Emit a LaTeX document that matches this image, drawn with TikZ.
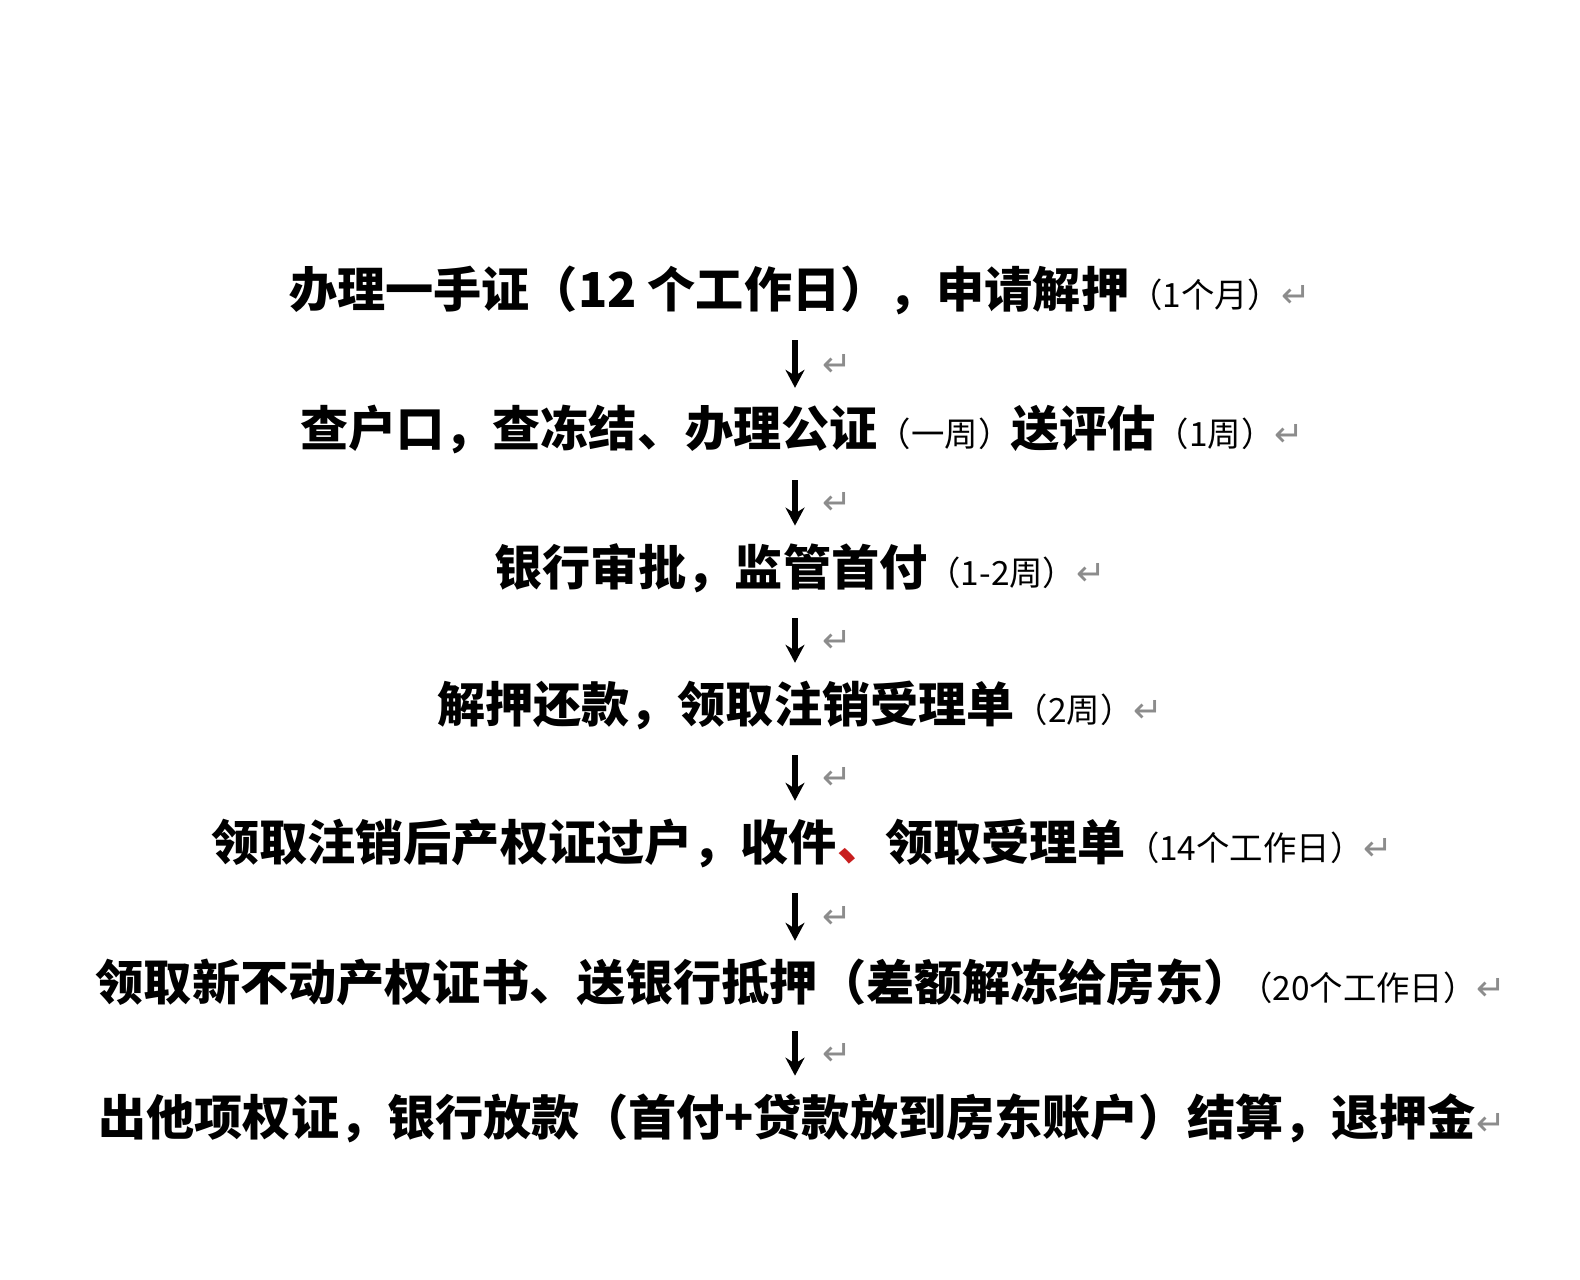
\documentclass[tikz,border=0pt]{standalone}
\usepackage{fontspec}
\usetikzlibrary{arrows.meta}
\newfontfamily\hei{Noto Sans CJK SC}
\newfontfamily\symfont{DejaVu Sans}
\definecolor{retgray}{RGB}{140,140,140}
\definecolor{markred}{RGB}{200,30,30}
\newcommand\dur[1]{{\hei\mdseries\fontsize{9.5}{10}\selectfont #1}}
\newcommand\retmark{{\symfont\mdseries\color{retgray}\fontsize{10}{11}\selectfont ↵}}
\tikzset{
  stepline/.style={inner sep=0pt, font=\hei\bfseries\fontsize{13.7}{15}\selectfont},
  flow/.style={-{Stealth[length=1.8mm,width=1.9mm]}, line width=1.7pt, shorten <=2.5mm, shorten >=1.7mm},
  ret/.style={right=2.4mm, yshift=-0.5mm, inner sep=0pt}
}
\begin{document}
\begin{tikzpicture}
    \useasboundingbox (0,0) rectangle (15.8,12.8);
    \coordinate (ax) at (7.95,0);
    \node[stepline] (s1) at (8.0,9.9) {办理一手证（12 个工作日），申请解押\dur{（1个月）}\retmark};
    \node[stepline] (s2) at (8.02,8.5) {查户口，查冻结、办理公证\dur{（一周）}送评估\dur{（1周）}\retmark};
    \node[stepline] (s3) at (8.0,7.12) {银行审批，监管首付\dur{（1-2周）}\retmark};
    \node[stepline] (s4) at (8.0,5.75) {解押还款，领取注销受理单\dur{（2周）}\retmark};
    \node[stepline] (s5) at (8.02,4.37) {领取注销后产权证过户，收件{\color{markred}、}领取受理单\dur{（14个工作日）}\retmark};
    \node[stepline] (s6) at (8.01,2.98) {领取新不动产权证书、送银行抵押（差额解冻给房东）\kern-0.25em\dur{（20个工作日）}\retmark};
    \node[stepline] (s7) at (8.02,1.62) {出他项权证，银行放款（首付+贷款放到房东账户）结算，退押金\retmark};
    \draw[flow] (s1.south -| ax) -- node[ret] {\retmark} (s2.north -| ax);
    \draw[flow] (s2.south -| ax) -- node[ret] {\retmark} (s3.north -| ax);
    \draw[flow] (s3.south -| ax) -- node[ret] {\retmark} (s4.north -| ax);
    \draw[flow] (s4.south -| ax) -- node[ret] {\retmark} (s5.north -| ax);
    \draw[flow] (s5.south -| ax) -- node[ret] {\retmark} (s6.north -| ax);
    \draw[flow] (s6.south -| ax) -- node[ret] {\retmark} (s7.north -| ax);
    \end{tikzpicture}
\end{document}
